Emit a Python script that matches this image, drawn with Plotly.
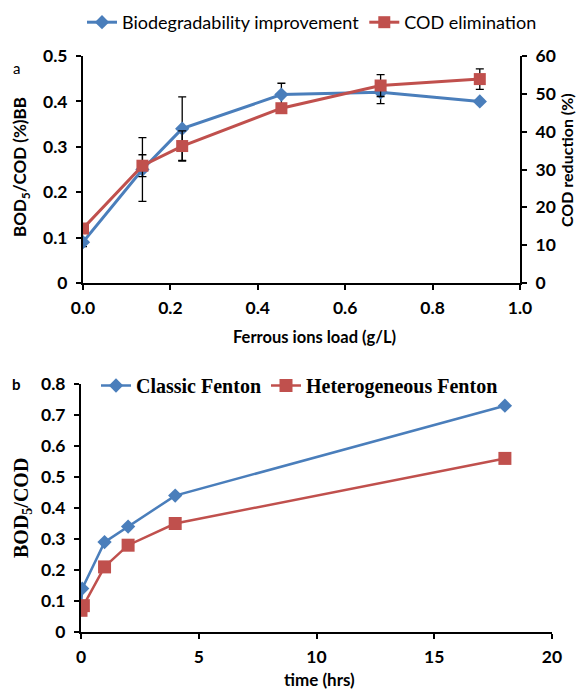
import plotly.graph_objects as go

# Panel a data
fe_load = [0.0, 0.136, 0.227, 0.454, 0.681, 0.908]
biodeg = [0.09, 0.25, 0.34, 0.415, 0.42, 0.40]
biodeg_err = [0.01, 0.07, 0.07, 0.025, 0.025, 0.0]
cod_elim = [14.4, 31.0, 36.2, 46.2, 52.2, 53.9]
cod_err = [0.0, 2.9, 4.0, 0.0, 2.9, 2.7]

# Panel b data
time_classic = [0.0, 0.05, 1, 2, 4, 18]
classic = [0.08, 0.14, 0.29, 0.34, 0.44, 0.73]
time_hetero = [0.0, 0.1, 1, 2, 4, 18]
hetero = [0.07, 0.085, 0.21, 0.28, 0.35, 0.56]

BLUE = "#4A7EBB"
RED = "#C0504D"
SANS = "Lato, Open Sans, sans-serif"
SERIF = "Liberation Serif, Times New Roman, serif"

W, H = 584, 689
def px(x):
    return x / W
def py(y):
    return 1 - y / H

fig = go.Figure()

fig.add_trace(go.Scatter(
    x=fe_load, y=biodeg, name="Biodegradability improvement",
    mode="lines+markers", line=dict(color=BLUE, width=3),
    marker=dict(symbol="diamond", size=11, color=BLUE),
    error_y=dict(type="data", array=biodeg_err, color="black", thickness=1.3, width=4),
    xaxis="x", yaxis="y", legend="legend"))
fig.add_trace(go.Scatter(
    x=fe_load, y=cod_elim, name="COD elimination",
    mode="lines+markers", line=dict(color=RED, width=3),
    marker=dict(symbol="square", size=12, color=RED),
    error_y=dict(type="data", array=cod_err, color="black", thickness=1.3, width=4),
    xaxis="x", yaxis="y2", legend="legend"))

fig.add_trace(go.Scatter(
    x=time_classic, y=classic, name="Classic Fenton",
    mode="lines+markers", line=dict(color=BLUE, width=2.5),
    marker=dict(symbol="diamond", size=11, color=BLUE),
    xaxis="x2", yaxis="y3", legend="legend2"))
fig.add_trace(go.Scatter(
    x=time_hetero, y=hetero, name="Heterogeneous Fenton",
    mode="lines+markers", line=dict(color=RED, width=2.5),
    marker=dict(symbol="square", size=13, color=RED),
    xaxis="x2", yaxis="y3", legend="legend2"))

tickfont = dict(family=SANS, size=17.5, color="black", weight="bold")
common = dict(showline=True, linecolor="black", linewidth=2, ticks="outside",
              ticklen=5, tickwidth=2, tickcolor="black", showgrid=False,
              zeroline=False, tickfont=tickfont, automargin=False)
ycommon = dict(common, ticklabelstandoff=5)
xcommon = dict(common, ticklabelstandoff=3)

fig.update_layout(
    width=W, height=H, margin=dict(l=0, r=0, t=0, b=0, autoexpand=False),
    paper_bgcolor="white", plot_bgcolor="white", showlegend=True,
    xaxis=dict(domain=[px(83), px(520)], range=[0, 1], dtick=0.2, tickformat=".1f",
               anchor="y", **xcommon),
    yaxis=dict(domain=[py(283), py(56)], range=[0, 0.5], dtick=0.1, anchor="x", **ycommon),
    yaxis2=dict(range=[0, 60], dtick=10, overlaying="y", side="right", anchor="x", **ycommon),
    xaxis2=dict(domain=[px(81), px(552)], range=[0, 20], dtick=5, anchor="y3", **xcommon),
    yaxis3=dict(domain=[py(632), py(384)], range=[0, 0.8], dtick=0.1, anchor="x2", **ycommon),
    legend=dict(orientation="h", x=px(82), y=py(4), xanchor="left", yanchor="top",
                font=dict(family=SANS, size=18, color="black"), bgcolor="rgba(0,0,0,0)",
                itemwidth=30),
    legend2=dict(orientation="h", x=px(96), y=py(366), xanchor="left", yanchor="top",
                 font=dict(family=SERIF, size=20, color="black", weight="bold"),
                 bgcolor="rgba(0,0,0,0)", itemwidth=30),
)

anns = [
    dict(text="a", x=px(16), y=py(68), font=dict(family=SANS, size=15, color="black")),
    dict(text="b", x=px(16), y=py(384), font=dict(family=SANS, size=15, color="black", weight="bold")),
    dict(text="BOD<sub>5</sub>/COD (%)BB", x=px(21), y=py(167), textangle=-90,
         font=dict(family=SANS, size=17, color="black", weight="bold")),
    dict(text="COD reduction (%)", x=px(566), y=py(160), textangle=-90,
         font=dict(family=SANS, size=16, color="black", weight="bold")),
    dict(text="Ferrous ions load (g/L)", x=px(314), y=py(337),
         font=dict(family=SANS, size=16.5, color="black", weight="bold")),
    dict(text="BOD<sub>5</sub>/COD", x=px(22), y=py(508), textangle=-90,
         font=dict(family=SERIF, size=20, color="black", weight="bold")),
    dict(text="time (hrs)", x=px(319), y=py(679),
         font=dict(family=SANS, size=17, color="black", weight="bold")),
]
for a in anns:
    fig.add_annotation(xref="paper", yref="paper", showarrow=False,
                       xanchor="center", yanchor="middle", **a)

fig.write_html("out.html", config={"displayModeBar": False},
               post_script="document.body.style.margin='0';document.body.style.overflow='hidden';")
